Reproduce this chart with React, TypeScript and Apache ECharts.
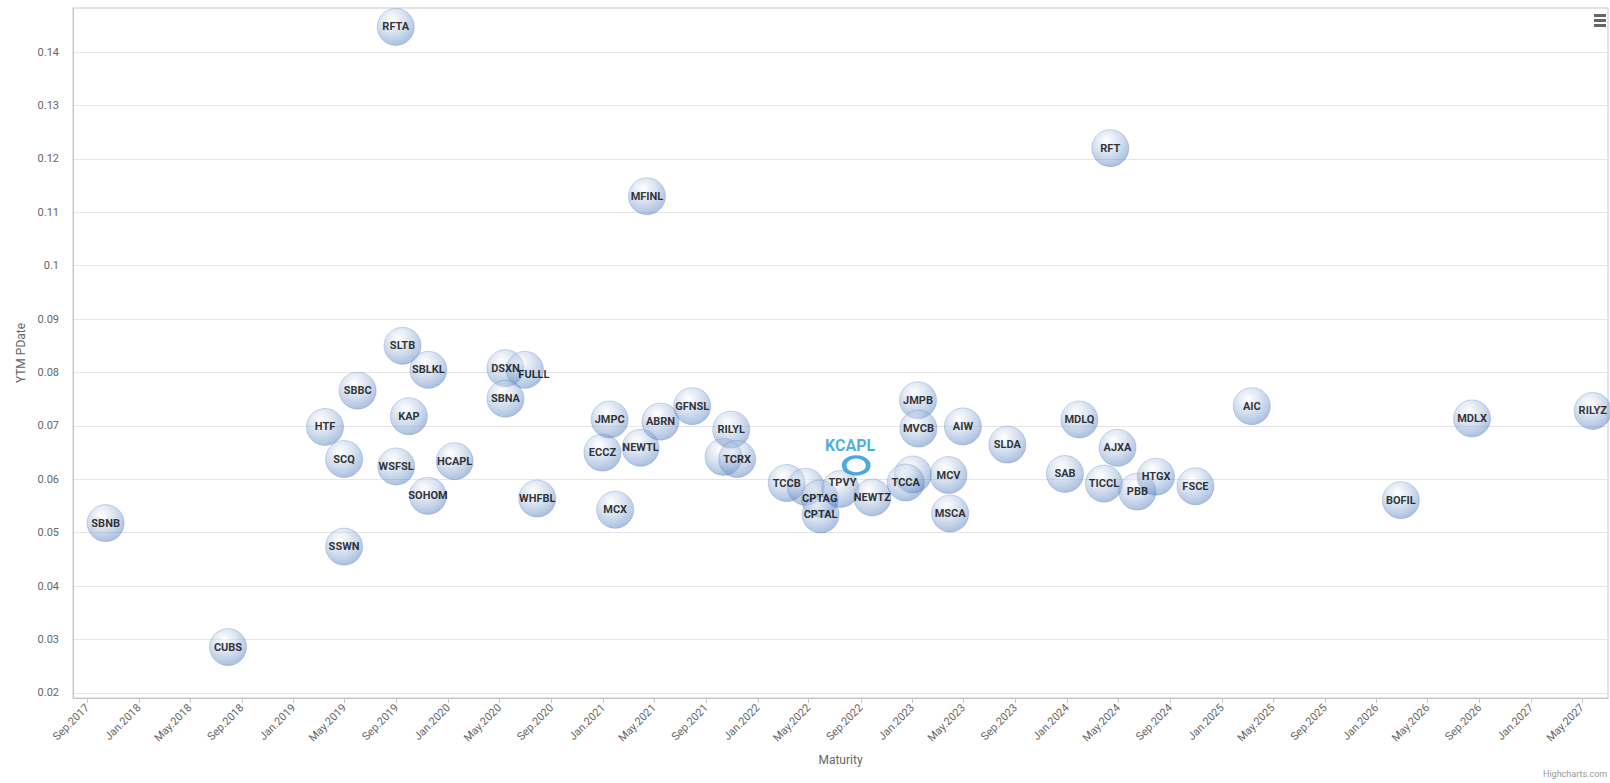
import React, { useEffect, useRef } from 'react';
import * as echarts from 'echarts';

// ---- data ----
const names: string[] = [
  'SBNB', 'CUBS', 'HTF', 'SCQ', 'SSWN', 'SBBC', 'RFTA', 'WSFSL', 'SLTB', 'KAP',
  'SBLKL', 'SOHOM', 'HCAPL', 'DSXN', 'FULLL', 'SBNA', 'WHFBL', 'ECCZ', 'JMPC', 'MCX',
  'NEWTL', 'MFINL', 'ABRN', 'GFNSL', '', 'RILYL', 'TCRX', 'TCCB', '', 'CPTAG',
  'CPTAL', 'TPVY', 'NEWTZ', '', 'TCCA', 'JMPB', 'MVCB', 'MCV', 'MSCA', 'AIW',
  'SLDA', 'SAB', 'MDLQ', 'TICCL', 'RFT', 'AJXA', 'PBB', 'HTGX', 'FSCE', 'AIC',
  'BOFIL', 'MDLX', 'RILYZ',
];

const maturities: string[] = [
  '2017-10-14', '2018-07-30', '2019-03-16', '2019-04-30', '2019-04-30', '2019-06-01', '2019-08-30', '2019-08-31', '2019-09-15', '2019-09-30',
  '2019-11-15', '2019-11-14', '2020-01-16', '2020-05-15', '2020-06-30', '2020-05-15', '2020-07-29', '2020-12-30', '2021-01-16', '2021-01-29',
  '2021-03-30', '2021-04-14', '2021-05-16', '2021-07-30', '2021-10-12', '2021-10-30', '2021-11-13', '2022-03-10', '2022-04-24', '2022-05-27',
  '2022-05-29', '2022-07-15', '2022-09-28', '2023-01-02', '2022-12-16', '2023-01-14', '2023-01-15', '2023-03-27', '2023-03-31', '2023-04-30',
  '2023-08-13', '2023-12-27', '2024-01-30', '2024-03-28', '2024-04-12', '2024-04-29', '2024-06-15', '2024-07-29', '2024-10-30', '2025-03-12',
  '2026-02-27', '2026-08-14', '2027-05-26',
];

const ytm: number[] = [
  0.0518, 0.0286, 0.0698, 0.0638, 0.0474, 0.0766, 0.1447, 0.0624, 0.085, 0.0718,
  0.0805, 0.0569, 0.0634, 0.0808, 0.0805, 0.0751, 0.0564, 0.065, 0.0712, 0.0543,
  0.0659, 0.113, 0.0708, 0.0737, 0.0642, 0.0693, 0.0638, 0.0593, 0.0586, 0.0564,
  0.0534, 0.0582, 0.0566, 0.0609, 0.0594, 0.0748, 0.0695, 0.0608, 0.0536, 0.0699,
  0.0665, 0.061, 0.0712, 0.0592, 0.122, 0.0659, 0.0577, 0.0605, 0.0587, 0.0737,
  0.0561, 0.0714, 0.0728,
];

const highlightName = 'KCAPL';
const highlightMaturity = '2022-08-21';
const highlightYtm = 0.0626;

const xTickDates: string[] = [
  '2017-09-01', '2018-01-01', '2018-05-01', '2018-09-01', '2019-01-01', '2019-05-01',
  '2019-09-01', '2020-01-01', '2020-05-01', '2020-09-01', '2021-01-01', '2021-05-01',
  '2021-09-01', '2022-01-01', '2022-05-01', '2022-09-01', '2023-01-01', '2023-05-01',
  '2023-09-01', '2024-01-01', '2024-05-01', '2024-09-01', '2025-01-01', '2025-05-01',
  '2025-09-01', '2026-01-01', '2026-05-01', '2026-09-01', '2027-01-01', '2027-05-01',
];
const yTicks: number[] = [0.02, 0.03, 0.04, 0.05, 0.06, 0.07, 0.08, 0.09, 0.1, 0.11, 0.12, 0.13, 0.14];

const xMinDate = '2017-07-29';
const xMaxDate = '2027-07-01';
const yMin = 0.01906;
const yMax = 0.14824;

const monthNames = ['Jan', 'Feb', 'Mar', 'Apr', 'May', 'Jun', 'Jul', 'Aug', 'Sep', 'Oct', 'Nov', 'Dec'];

// ---- style ----
const labelOffsets: Record<string, number[]> = { FULLL: [9, 5], TPVY: [2, -6] };

function ts(s: string): number {
  const [y, m, d] = s.split('-').map(Number);
  return Date.UTC(y, m - 1, d);
}

export default function App() {
  const ref = useRef<HTMLDivElement>(null);
  useEffect(() => {
    if (!ref.current) return;
    const chart = echarts.init(ref.current, undefined, { renderer: 'svg' });
    const font = 'Roboto, "Noto Sans", sans-serif';
    const bubbleData = names.map((n, i) => {
      const item: any = { name: n, value: [ts(maturities[i]), ytm[i]] };
      if (labelOffsets[n]) item.label = { offset: labelOffsets[n] };
      return item;
    });
    const xTicks = xTickDates.map(ts);
    chart.setOption({
      animation: false,
      textStyle: { fontFamily: font },
      grid: {
        left: 73, right: 2, top: 8, bottom: 85,
        show: true, borderColor: '#c8c8c8', borderWidth: 1, containLabel: false,
      },
      xAxis: {
        type: 'value',
        min: ts(xMinDate),
        max: ts(xMaxDate),
        name: 'Maturity',
        nameLocation: 'middle',
        nameGap: 56,
        nameTextStyle: { color: '#666', fontSize: 12, fontFamily: font },
        axisLine: { show: true, lineStyle: { color: '#c8c8c8' } },
        axisTick: { show: true, length: 5, lineStyle: { color: '#c8c8c8' }, customValues: xTicks },
        splitLine: { show: false },
        axisLabel: {
          customValues: xTicks,
          rotate: 45,
          color: '#666',
          fontSize: 11,
          margin: 8,
          fontFamily: font,
          formatter: (v: number) => {
            const d = new Date(v);
            return monthNames[d.getUTCMonth()] + '.' + d.getUTCFullYear();
          },
        },
      },
      yAxis: {
        type: 'value',
        min: yMin,
        max: yMax,
        name: 'YTM PDate',
        nameLocation: 'middle',
        nameGap: 44,
        nameTextStyle: { color: '#666', fontSize: 12, fontFamily: font },
        axisLine: { show: true, lineStyle: { color: '#c8c8c8' } },
        axisTick: { show: false, customValues: yTicks },
        splitLine: { show: true, lineStyle: { color: '#e6e6e6' } },
        axisLabel: {
          customValues: yTicks,
          color: '#666',
          fontSize: 11,
          margin: 14,
          fontFamily: font,
          formatter: (v: number) => String(Math.round(v * 100) / 100),
        },
      },
      series: [
        {
          type: 'scatter',
          symbol: 'circle',
          symbolSize: 37,
          data: bubbleData,
          itemStyle: {
            color: {
              type: 'radial', x: 0.4, y: 0.3, r: 0.7,
              colorStops: [
                { offset: 0, color: 'rgba(255,255,255,0.5)' },
                { offset: 1, color: 'rgba(74,120,188,0.58)' },
              ],
            },
            borderColor: 'rgba(74,120,188,0.35)',
            borderWidth: 1,
          },
          label: {
            show: true,
            position: 'inside',
            formatter: (p: any) => p.name,
            color: '#000',
            fontSize: 11,
            fontWeight: 'bold',
            fontFamily: font,
          },
          emphasis: { disabled: true },
        },
        {
          type: 'scatter',
          symbol: 'circle',
          symbolSize: [24, 17],
          data: [{ name: highlightName, value: [ts(highlightMaturity), highlightYtm] }],
          itemStyle: { color: '#fff', borderColor: '#1e96d4', borderWidth: 4 },
          label: {
            show: true,
            position: 'top',
            distance: 2,
            offset: [-6, 0],
            formatter: (p: any) => p.name,
            color: '#1e9bd7',
            fontSize: 16,
            fontWeight: 'bold',
            fontFamily: font,
          },
          z: 5,
          emphasis: { disabled: true },
        },
      ],
      graphic: [
        { type: 'rect', shape: { x: 1594, y: 14, width: 12, height: 3 }, style: { fill: '#666' } },
        { type: 'rect', shape: { x: 1594, y: 19, width: 12, height: 3 }, style: { fill: '#666' } },
        { type: 'rect', shape: { x: 1594, y: 24, width: 12, height: 3 }, style: { fill: '#666' } },
        {
          type: 'text', x: 1543, y: 774,
          style: { text: 'Highcharts.com', fill: '#999', fontSize: 9, fontFamily: font, verticalAlign: 'middle' },
        },
      ],
    });
    return () => chart.dispose();
  }, []);
  return (
    <div
      ref={ref}
      style={{ position: 'fixed', left: 0, top: 0, width: '1610px', height: '783px', background: '#fff' }}
    />
  );
}
